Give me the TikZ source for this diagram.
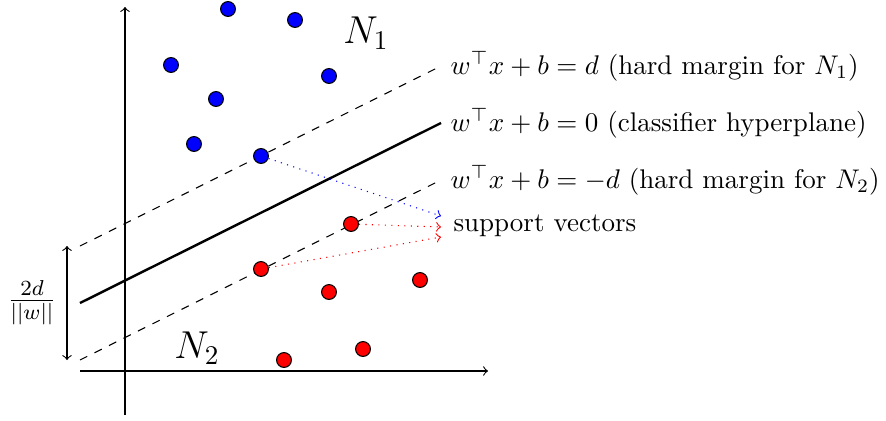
\documentclass[tikz,border=0pt]{standalone}
\usepackage{amsmath}
\begin{document}
\begin{tikzpicture}[x=0.3704pt,y=-0.3704pt,
  bdot/.style={circle,draw=black,fill=blue,minimum size=5.5pt,inner sep=0pt},
  rdot/.style={circle,draw=black,fill=red,minimum size=5.5pt,inner sep=0pt},
  lbl/.style={anchor=west},
  sv/.style={dotted,->}]
\useasboundingbox (0,0) rectangle (886,420);
% axes
\coordinate (xa) at (80,371);
\coordinate (xb) at (488,371);
\coordinate (ya) at (125,415);
\coordinate (yb) at (125,7);
\draw[->] (xa) -- (xb);
\draw[->] (ya) -- (yb);
% lines
\coordinate (u0) at (80,246);
\coordinate (u1) at (441,66);
\coordinate (m0) at (80,303);
\coordinate (m1) at (441,123);
\coordinate (l0) at (80,360);
\coordinate (l1) at (441,180);
\draw[dashed] (u0) -- (u1);
\draw[line width=0.9pt] (m0) -- (m1);
\draw[dashed] (l0) -- (l1);
\node[lbl] (tu) at (u1) {$w^\top x + b = d$ (hard margin for $N_1$)};
\node[lbl] (tm) at (m1) {$w^\top x + b = 0$ (classifier hyperplane)};
\node[lbl] (tl) at (l1) {$w^\top x + b = -d$ (hard margin for $N_2$)};
% points
\node[bdot] (b1) at (228,9) {};
\node[bdot] (b2) at (295,20) {};
\node[bdot] (b3) at (171,65) {};
\node[bdot] (b4) at (329,76) {};
\node[bdot] (b5) at (216,99) {};
\node[bdot] (b6) at (194,144) {};
\node[bdot] (b7) at (261,156) {};
\node[rdot] (r1) at (351,224) {};
\node[rdot] (r2) at (261,269) {};
\node[rdot] (r3) at (329,292) {};
\node[rdot] (r4) at (420,280) {};
\node[rdot] (r5) at (284,360) {};
\node[rdot] (r6) at (363,349) {};
% support vectors
\coordinate (e1) at (441,216);
\coordinate (e2) at (441,227);
\coordinate (e3) at (441,237);
\node[lbl] (svt) at (444,226) {support vectors};
\draw[sv,blue] (b7) -- (e1);
\draw[sv,red] (r1) -- (e2);
\draw[sv,red] (r2) -- (e3);
% class labels
\node[font=\Large] (n1) at (366,33) {$N_1$};
\node[font=\Large] (n2) at (197,348) {$N_2$};
% margin width
\coordinate (d0) at (67,246);
\coordinate (d1) at (67,360);
\draw[<->] (d0) -- (d1);
\node[font=\large] (dl) at (32,303) {$\frac{2d}{||w||}$};
\end{tikzpicture}
\end{document}
